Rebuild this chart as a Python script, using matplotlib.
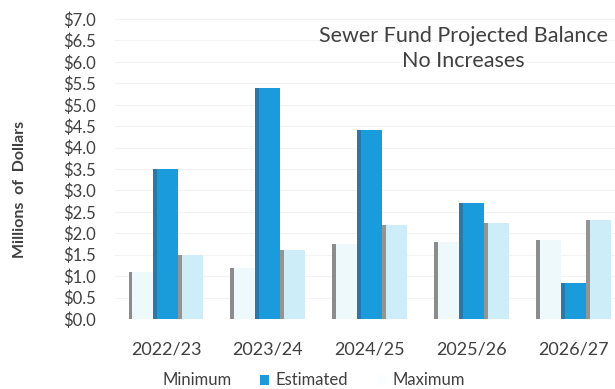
import matplotlib.pyplot as plt
from matplotlib.patches import Patch
import numpy as np

plt.rcParams["font.family"] = ["Lato", "DejaVu Sans"]

years = ["2022/23", "2023/24", "2024/25", "2025/26", "2026/27"]
minimum = [1.1, 1.2, 1.75, 1.8, 1.85]
estimated = [3.5, 5.4, 4.4, 2.7, 0.85]
maximum = [1.5, 1.6, 2.2, 2.25, 2.3]
y_ticks = np.arange(0, 7.01, 0.5)

text_color = "#404040"

# face colour, side (left stripe) colour for each series
series = [
    ("Minimum", minimum, "#eef9fc", "#8c8c8c"),
    ("Estimated", estimated, "#1a9cdc", "#2a78aa"),
    ("Maximum", maximum, "#cdeef9", "#949494"),
]

fig = plt.figure(figsize=(6.15, 3.89), dpi=100)
ax = fig.add_axes([0.187, 0.18, 0.829, 0.771])

x = np.arange(len(years))
width = 0.245
stripe = 0.035

for i, (name, values, face, side) in enumerate(series):
    pos = x + (i - 1) * width
    ax.bar(pos, values, width=width, color=face, zorder=2)
    # shaded left side gives the bars their 3D look
    ax.bar(pos - width / 2, values, width=stripe, align="edge", color=side, zorder=3)

ax.set_xlim(-0.5, len(years) - 0.5)
ax.set_ylim(0, 7.0)
ax.set_yticks(y_ticks)
ax.set_yticklabels([f"${v:.1f}" for v in y_ticks])
ax.set_xticks(x)
ax.set_xticklabels(years)
ax.tick_params(axis="both", length=0, labelsize=12, colors=text_color)
ax.tick_params(axis="x", pad=16, labelsize=13)
ax.tick_params(axis="y", pad=14)
for spine in ax.spines.values():
    spine.set_visible(False)
ax.yaxis.grid(True, color="#f3f3f3", linewidth=0.8, zorder=0)

ax.set_ylabel("Millions  of  Dollars", fontsize=11.5, fontweight="bold",
              color=text_color)
ax.yaxis.set_label_coords(-0.172, 0.433)

fig.text(0.753, 0.875, "Sewer Fund Projected Balance\nNo Increases",
         ha="center", va="center", fontsize=15.5, color=text_color, linespacing=1.3)

handles = [Patch(facecolor=face, edgecolor="none", label=name)
           for name, _, face, _ in series]
handles[0].set_facecolor("#ffffff")
handles[2].set_facecolor("#fbfeff")
fig.legend(handles=handles, loc="center", bbox_to_anchor=(0.497, 0.022), ncol=3,
           frameon=False, fontsize=12, labelcolor=text_color,
           handlelength=0.55, handleheight=0.55, handletextpad=0.4, columnspacing=1.7)

fig.savefig("out.png", dpi=100, facecolor="white")
